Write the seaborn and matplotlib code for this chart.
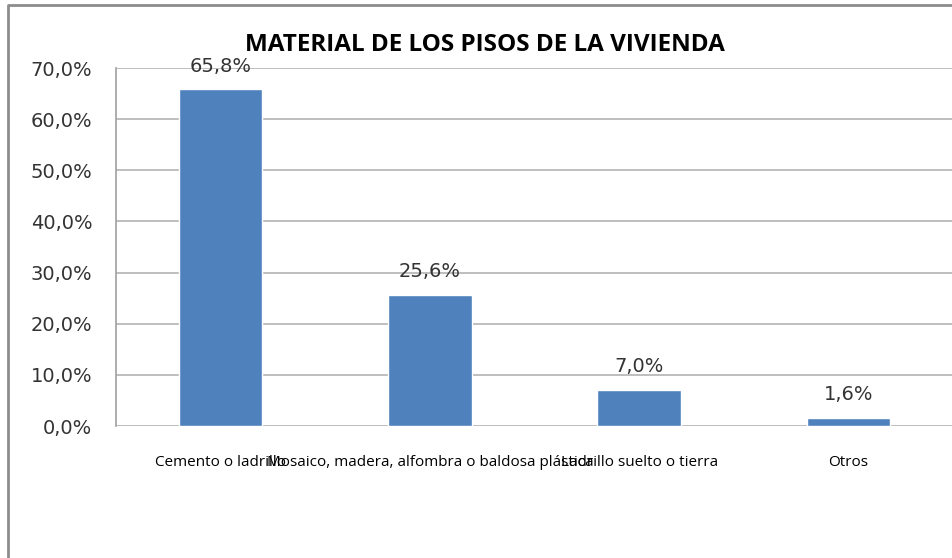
import matplotlib.pyplot as plt
import matplotlib.lines as mlines
import seaborn as sns
import pandas as pd

# Data
categorias = ['Cemento o ladrillo',
              'Mosaico, madera, alfombra o baldosa plástica',
              'Ladrillo suelto o tierra',
              'Otros']
porcentajes = [65.8, 25.6, 7.0, 1.6]
y_ticks = [0, 10, 20, 30, 40, 50, 60, 70]

df = pd.DataFrame({'categoria': categorias, 'pct': porcentajes})

sns.set_style('white')
plt.rcParams['font.family'] = ['Open Sans', 'DejaVu Sans']

fig = plt.figure(figsize=(9.53, 5.58), dpi=100)
ax = fig.add_axes([116 / 953, 1 - 426 / 558, 1 - 116 / 953, (426 - 68) / 558])

sns.barplot(data=df, x='categoria', y='pct', color='#4F81BD', width=0.4,
            saturation=1, ax=ax, zorder=3)

ax.set_ylim(0, 70)
ax.set_xlim(-0.5, len(categorias) - 0.5)
ax.set_yticks(y_ticks)
ax.set_yticklabels([f'{v:.1f}'.replace('.', ',') + '%' for v in y_ticks],
                   fontsize=14, color='#333333', family='DejaVu Sans')
ax.tick_params(axis='y', length=0, pad=17)
ax.tick_params(axis='x', length=0, pad=21, labelsize=11, labelcolor='black')
ax.set_xlabel('')
ax.set_ylabel('')

for v in y_ticks:
    ax.axhline(v, color='#b3b3b3', linewidth=1.2, zorder=1)
for s in ['top', 'right', 'bottom']:
    ax.spines[s].set_visible(False)
ax.spines['left'].set_color('#a0a0a0')
ax.spines['left'].set_linewidth(1.2)

for i, v in enumerate(porcentajes):
    ax.annotate(f'{v:.1f}'.replace('.', ',') + '%', (i, v), xytext=(0, 10),
                textcoords='offset points', ha='center', va='bottom',
                fontsize=14, color='#333333', family='DejaVu Sans')

fig.text(485 / 953, 1 - 45 / 558, 'MATERIAL DE LOS PISOS DE LA VIVIENDA',
         ha='center', va='center', fontsize=17.5, fontweight='bold',
         color='black')

# outer chart frame (only top and left edges visible)
fig.add_artist(mlines.Line2D([8 / 953, 8 / 953, 1], [0, 1 - 5 / 558, 1 - 5 / 558],
                             transform=fig.transFigure, color='#8c8c8c',
                             linewidth=2))

fig.savefig('out.png', dpi=100)
